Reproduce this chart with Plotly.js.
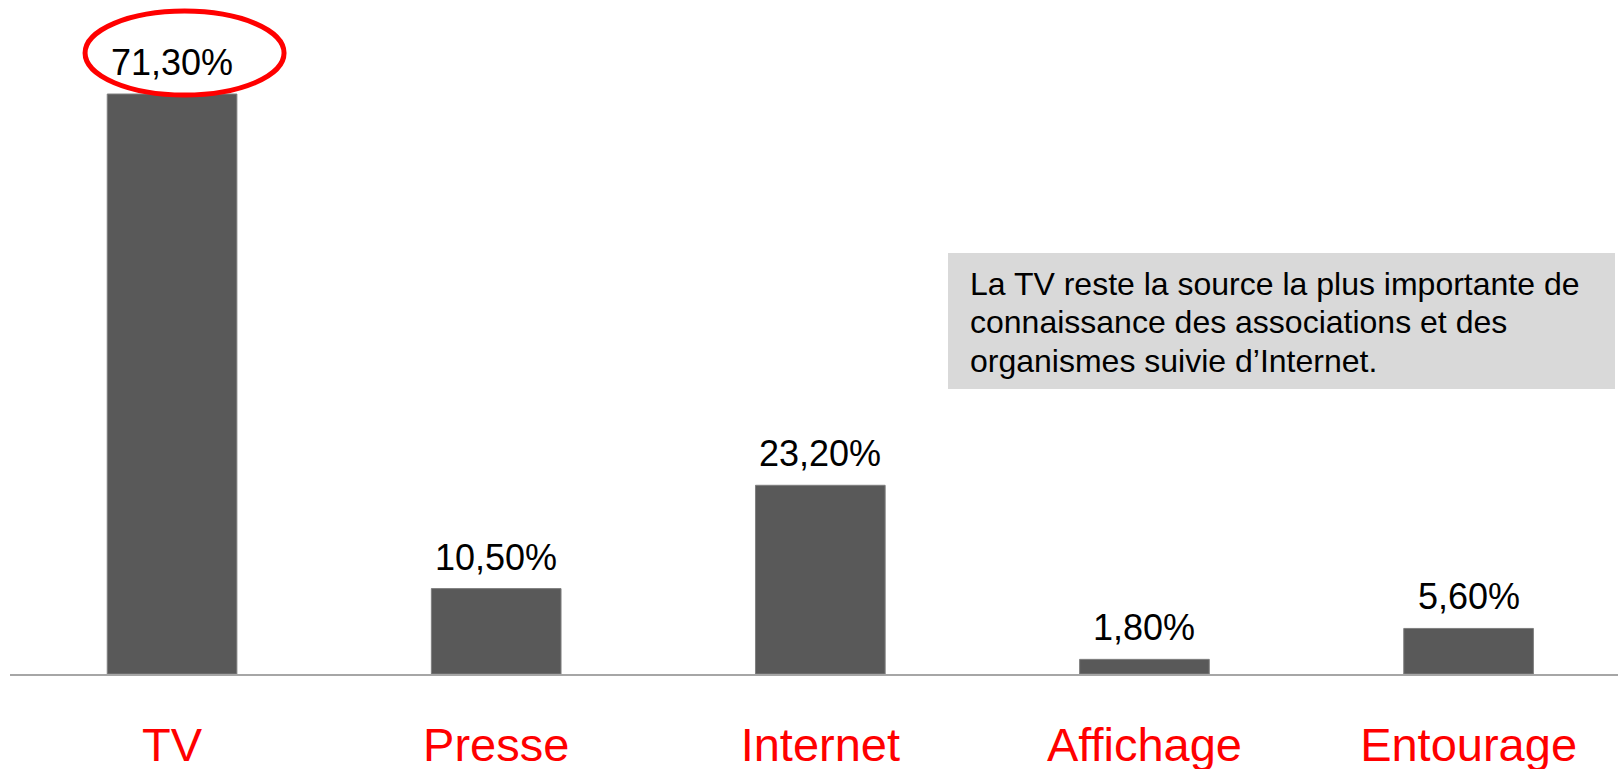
<!DOCTYPE html>
<html>
<head>
<meta charset="utf-8">
<script src="https://cdn.plot.ly/plotly-3.0.1.min.js"></script>
<style>html,body{margin:0;padding:0;background:#fff;}#chart{width:1618px;height:769px;}</style>
</head>
<body>
<div id="chart"></div>
<script>
const categories = ["TV", "Presse", "Internet", "Affichage", "Entourage"];
const values = [71.3, 10.5, 23.2, 1.8, 5.6];
const valueLabels = ["71,30%", "10,50%", "23,20%", "1,80%", "5,60%"];
const noteLines = [
  "La TV reste la source la plus importante de",
  "connaissance des associations et des",
  "organismes suivie d\u2019Internet."
];

const FONT = "Liberation Sans, Arial, sans-serif";
const plotH = 674, plotL = 10, plotW = 1608;
const px = v => (v - plotL) / plotW;
const py = v => (plotH - v) / plotH;

const annotations = [];
categories.forEach((c, i) => {
  annotations.push({
    x: c, y: values[i], xref: "x", yref: "y",
    text: valueLabels[i], showarrow: false,
    yanchor: "bottom", xanchor: "center", yshift: 9,
    font: {family: FONT, size: 36, color: "#000000"}
  });
});
const lineY = [284, 322, 361];
noteLines.forEach((t, i) => {
  annotations.push({
    x: px(968), y: py(lineY[i]), xref: "paper", yref: "paper",
    text: t, showarrow: false, xanchor: "left", yanchor: "middle", align: "left",
    font: {family: FONT, size: 32, color: "#000000"}
  });
});

const data = [{
  type: "bar",
  x: categories,
  y: values,
  width: 0.4,
  marker: {color: "#595959", line: {color: "#7f7f7f", width: 1}},
  hoverinfo: "skip"
}];

const layout = {
  width: 1618, height: 769,
  margin: {l: plotL, r: 0, t: 0, b: 769 - plotH},
  paper_bgcolor: "#ffffff", plot_bgcolor: "#ffffff",
  showlegend: false,
  xaxis: {
    type: "category",
    range: [-0.5, 4.461],
    showline: true, linecolor: "#a6a6a6", linewidth: 2,
    showgrid: false, zeroline: false, ticks: "",
    ticklabelstandoff: 29,
    tickfont: {family: FONT, size: 47, color: "#ff0000"},
    fixedrange: true
  },
  yaxis: {
    range: [0, 82.86],
    visible: false, showgrid: false, zeroline: false, fixedrange: true
  },
  shapes: [
    {
      type: "rect", xref: "paper", yref: "paper", layer: "below",
      x0: px(948), x1: px(1615), y0: py(389), y1: py(253),
      fillcolor: "#d9d9d9", line: {width: 0}
    },
    {
      type: "circle", xref: "x", yref: "y",
      xsizemode: "pixel", ysizemode: "pixel",
      xanchor: "TV", yanchor: values[0],
      x0: -87, x1: 112, y0: -1, y1: 83,
      line: {color: "#ff0000", width: 5}, fillcolor: "rgba(0,0,0,0)"
    }
  ],
  annotations: annotations
};

Plotly.newPlot("chart", data, layout, {displayModeBar: false, staticPlot: true});
</script>
</body>
</html>
